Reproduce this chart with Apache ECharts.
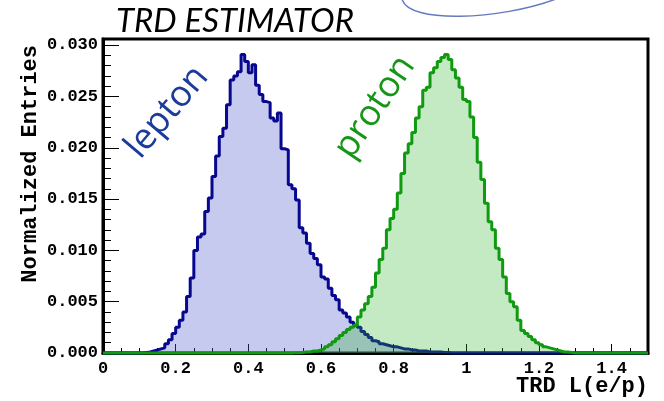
<!DOCTYPE html>
<html>
<head>
<meta charset="utf-8">
<script src="https://cdn.jsdelivr.net/npm/echarts@6/dist/echarts.min.js"></script>
<style>html,body{margin:0;padding:0;background:#fff}#c{width:664px;height:401px}</style>
</head>
<body>
<div id="c"></div>
<script>
// ---- data ----
var binWidth = 0.01;
var xMin = 0, xMax = 1.5;
var xTicks = [0, 0.2, 0.4, 0.6, 0.8, 1, 1.2, 1.4];
var yTicks = [0, 0.005, 0.010, 0.015, 0.020, 0.025, 0.030];
// lepton histogram, 150 bins of width 0.01 starting at 0
var lepton = [
  0,0,0,0,0,0,0,0,0,0,                                   // 0.00-0.09
  0,0.00005,0.0001,0.0002,0.0003,0.0004,0.0005,0.0009,0.0013,0.0019, // 0.10-0.19
  0.0025,0.0032,0.0040,0.0055,0.0073,0.0100,0.0113,0.0116,0.0138,0.0151, // 0.20-0.29
  0.0172,0.0192,0.0211,0.0219,0.0242,0.0266,0.0270,0.0274,0.0291,0.0284, // 0.30-0.39
  0.0273,0.0281,0.0261,0.0252,0.0245,0.0244,0.0229,0.0226,0.0234,0.0199, // 0.40-0.49
  0.0198,0.0164,0.0160,0.0149,0.0122,0.0117,0.0107,0.0097,0.0092,0.0086, // 0.50-0.59
  0.0074,0.0072,0.0063,0.0056,0.0052,0.0042,0.0039,0.0035,0.0030,0.0027, // 0.60-0.69
  0.0025,0.0021,0.0018,0.0015,0.0012,0.0011,0.0009,0.0008,0.0007,0.0006, // 0.70-0.79
  0.0006,0.0005,0.0004,0.0004,0.0003,0.0003,0.0002,0.0002,0.0002,0.0001, // 0.80-0.89
  0.0001,0.0001,0.0001,0.00005,0.00005,0,0,0,0,0,        // 0.90-0.99
  0,0,0,0,0,0,0,0,0,0,
  0,0,0,0,0,0,0,0,0,0,
  0,0,0,0,0,0,0,0,0,0,
  0,0,0,0,0,0,0,0,0,0,
  0,0,0,0,0,0,0,0,0,0
];
// proton histogram, 150 bins of width 0.01 starting at 0
var proton = [
  0,0,0,0,0,0,0,0,0,0,
  0,0,0,0,0,0,0,0,0,0,
  0,0,0,0,0,0,0,0,0,0,
  0,0,0,0,0,0,0,0,0,0,
  0,0,0,0,0,0,0,0,0,0,
  0,0,0.00002,0.00003,0.00005,0.0001,0.0001,0.0002,0.0002,0.0003,        // 0.50-0.59
  0.0004,0.0006,0.0008,0.0011,0.0014,0.0017,0.0020,0.0023,0.0025,0.0027, // 0.60-0.69
  0.0035,0.0042,0.0048,0.0055,0.0064,0.0078,0.0091,0.0102,0.0120,0.0131, // 0.70-0.79
  0.0140,0.0156,0.0175,0.0195,0.0204,0.0215,0.0229,0.0240,0.0256,0.0259, // 0.80-0.89
  0.0273,0.0278,0.0284,0.0288,0.0291,0.0286,0.0276,0.0268,0.0259,0.0247, // 0.90-0.99
  0.0245,0.0230,0.0210,0.0186,0.0169,0.0146,0.0128,0.0120,0.0102,0.0091, // 1.00-1.09
  0.0074,0.0058,0.0050,0.0045,0.0032,0.0022,0.0019,0.0016,0.0013,0.0010, // 1.10-1.19
  0.0008,0.0006,0.0005,0.0004,0.0003,0.0002,0.0001,0.0001,0.00005,0,     // 1.20-1.29
  0,0,0,0,0,0,0,0,0,0,
  0,0,0,0,0,0,0,0,0,0
];

function toSteps(bins) {
  var pts = bins.map(function (v, i) { return [xMin + i * binWidth, v]; });
  pts.push([xMin + bins.length * binWidth, 0]);
  return pts;
}

var mono = '"Liberation Mono", "DejaVu Sans Mono", monospace';
var chart = echarts.init(document.getElementById('c'), null, {renderer: 'canvas'});
chart.setOption({
  animation: false,
  backgroundColor: '#ffffff',
  grid: {left: 103, right: 16, top: 39, bottom: 48, show: true, borderColor: '#000', borderWidth: 3, backgroundColor: 'transparent'},
  xAxis: {
    type: 'value', min: xMin, max: xMax, interval: 0.2,
    axisLine: {show: true, onZero: false, lineStyle: {color: '#000', width: 3}},
    axisTick: {show: true, inside: true, length: 9, lineStyle: {color: '#000', width: 1}},
    minorTick: {show: true, splitNumber: 4, length: 5, lineStyle: {color: '#000', width: 1}},
    splitLine: {show: false},
    axisLabel: {
      margin: 7, color: '#000', fontFamily: mono, fontWeight: 'bold', fontSize: 17,
      formatter: function (v) { return xTicks.indexOf(Math.round(v * 10) / 10) >= 0 && v < 1.45 ? String(Math.round(v * 10) / 10) : ''; }
    }
  },
  yAxis: {
    type: 'value', min: 0, max: 0.0306, interval: 0.005,
    axisLine: {show: true, lineStyle: {color: '#000', width: 3}},
    axisTick: {show: true, inside: true, length: 16, lineStyle: {color: '#000', width: 1}},
    minorTick: {show: true, splitNumber: 5, length: 8, lineStyle: {color: '#000', width: 1}},
    splitLine: {show: false},
    axisLabel: {
      margin: 5, color: '#000', fontFamily: mono, fontWeight: 'bold', fontSize: 17,
      formatter: function (v) { return v.toFixed(3); }
    }
  },
  series: [
    {
      name: 'lepton', type: 'line', step: 'end', data: toSteps(lepton),
      symbol: 'none', clip: false, z: 2,
      lineStyle: {color: '#07078f', width: 3},
      areaStyle: {color: 'rgba(85,95,205,0.47)'}
    },
    {
      name: 'proton', type: 'line', step: 'end', data: toSteps(proton),
      symbol: 'none', clip: false, z: 3,
      lineStyle: {color: '#119911', width: 3},
      areaStyle: {color: 'rgba(40,180,40,0.40)'}
    }
  ],
  graphic: [
    {type: 'text', x: 235, y: 21, style: {text: 'TRD ESTIMATOR', fill: '#000', textAlign: 'center', textVerticalAlign: 'middle', font: 'italic 400 33px Lato, "Open Sans", sans-serif'}},
    {type: 'bezierCurve', shape: {x1: 402, y1: -1, cpx1: 408, cpy1: 24, cpx2: 500, cpy2: 20, x2: 556, y2: -1},
      style: {stroke: '#6878c0', lineWidth: 1.5, fill: null}},
    {type: 'text', x: 30, y: 45, rotation: Math.PI / 2,
      style: {text: 'Normalized Entries', fill: '#000', textAlign: 'right', textVerticalAlign: 'middle', font: 'bold 22px ' + mono}},
    {type: 'text', x: 648, y: 386,
      style: {text: 'TRD L(e/p)', fill: '#000', textAlign: 'right', textVerticalAlign: 'middle', font: 'bold 22px ' + mono}},
    {type: 'text', x: 167, y: 112, rotation: 50 * Math.PI / 180,
      style: {text: 'lepton', fill: '#1c3c9c', textAlign: 'center', textVerticalAlign: 'middle', font: '36px "Open Sans", "Liberation Sans", sans-serif'}},
    {type: 'text', x: 375, y: 107, rotation: 56 * Math.PI / 180,
      style: {text: 'proton', fill: '#169616', textAlign: 'center', textVerticalAlign: 'middle', font: '36px "Open Sans", "Liberation Sans", sans-serif'}}
  ]
});
</script>
</body>
</html>
